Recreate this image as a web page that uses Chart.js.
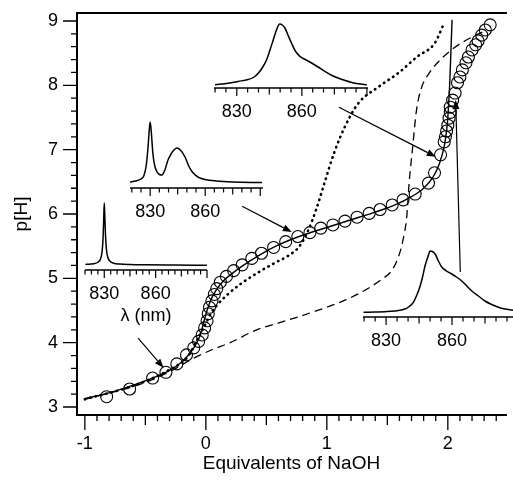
<!DOCTYPE html>
<html>
<head>
<meta charset="utf-8">
<script src="https://cdn.jsdelivr.net/npm/chart.js@4.4.1/dist/chart.umd.min.js"></script>
<style>
  html, body { margin: 0; padding: 0; background: #fff; }
  #wrap { position: relative; width: 513px; height: 481px; overflow: hidden; }
  #wrap canvas { position: absolute; }
</style>
</head>
<body>
<div id="wrap">
  <canvas id="main" width="513" height="481" style="left:0;top:0"></canvas>
  <canvas id="insetA"></canvas>
  <canvas id="insetB"></canvas>
  <canvas id="insetC"></canvas>
  <canvas id="insetD"></canvas>
</div>
<script>
// --- titration data: equivalents of NaOH vs p[H] ---
const measEq = [-0.82, -0.63, -0.44, -0.33, -0.24, -0.16, -0.10, -0.06, -0.03, -0.01, 0.01, 0.02, 0.03, 0.05, 0.07, 0.09,
  0.12, 0.17, 0.23, 0.30, 0.38, 0.46, 0.56, 0.66, 0.76, 0.86, 0.95, 1.05, 1.15, 1.25, 1.35, 1.44, 1.54, 1.63, 1.73,
  1.84, 1.89, 1.94, 1.97, 1.98, 1.99, 2.00, 2.01, 2.02, 2.02, 2.04, 2.06, 2.08, 2.10, 2.12, 2.15, 2.17, 2.20, 2.23,
  2.25, 2.28, 2.31, 2.35];
const measPH = [3.16, 3.28, 3.45, 3.54, 3.67, 3.81, 3.92, 4.02, 4.12, 4.23, 4.34, 4.45, 4.55, 4.65, 4.75, 4.84,
  4.94, 5.03, 5.12, 5.21, 5.31, 5.39, 5.48, 5.57, 5.65, 5.71, 5.78, 5.83, 5.89, 5.95, 6.01, 6.07, 6.14, 6.22, 6.31,
  6.48, 6.64, 6.92, 7.12, 7.20, 7.29, 7.38, 7.49, 7.58, 7.66, 7.77, 7.88, 8.04, 8.13, 8.24, 8.35, 8.44, 8.55, 8.63,
  8.69, 8.78, 8.86, 8.94];

// fitted curve (solid)
const fitEq = [-1.0, -0.8, -0.6, -0.4, -0.3, -0.2, -0.1, -0.05, -0.02, 0.01, 0.04, 0.08, 0.14, 0.2, 0.3, 0.45, 0.6,
  0.8, 1.0, 1.2, 1.4, 1.55, 1.7, 1.8, 1.88, 1.93, 1.97, 1.99, 2.0, 2.015, 2.025, 2.035];
const fitPH = [3.13, 3.22, 3.34, 3.48, 3.57, 3.7, 3.92, 4.1, 4.3, 4.5, 4.66, 4.8, 4.95, 5.05, 5.19, 5.37, 5.52,
  5.67, 5.79, 5.91, 6.03, 6.13, 6.27, 6.4, 6.58, 6.78, 7.05, 7.3, 7.5, 8.0, 8.5, 9.02];

// dotted curve
const dotEq = [-1.0, -0.6, -0.3, -0.15, -0.07, 0.0, 0.04, 0.1, 0.18, 0.3, 0.44, 0.57, 0.68, 0.77, 0.84, 0.91, 0.98,
  1.06, 1.15, 1.26, 1.43, 1.59, 1.75, 1.89, 1.97];
const dotPH = [3.12, 3.33, 3.58, 3.78, 4.05, 4.3, 4.45, 4.6, 4.75, 4.93, 5.1, 5.24, 5.35, 5.49, 5.72, 6.06, 6.48,
  6.95, 7.36, 7.72, 7.98, 8.19, 8.45, 8.65, 8.97];

// dashed curve
const dashEq = [-1.0, -0.6, -0.4, -0.25, -0.1, 0.05, 0.2, 0.42, 0.61, 0.89, 1.15, 1.3, 1.45, 1.54, 1.6, 1.63, 1.66,
  1.68, 1.71, 1.74, 1.78, 1.85, 1.95, 2.05, 2.15, 2.3];
const dashPH = [3.12, 3.32, 3.46, 3.6, 3.76, 3.89, 4.0, 4.2, 4.31, 4.48, 4.66, 4.8, 4.98, 5.13, 5.38, 5.6, 5.95,
  6.48, 7.05, 7.6, 7.95, 8.2, 8.42, 8.58, 8.7, 8.84];

const xTickLabels = [-1, 0, 1, 2];
const yTickLabels = [3, 4, 5, 6, 7, 8, 9];

// --- inset spectra: wavelength (nm) vs absorbance (a.u.) ---
const specA_nm = [819, 822, 824.5, 826.5, 827.8, 828.7, 829.3, 829.7, 830, 830.3, 830.7, 831.3, 832.2, 833.5, 835.5,
  839, 845, 855, 870, 890];
const specA_abs = [5.5, 6, 6.5, 8, 11, 18, 32, 52, 67, 55, 36, 20, 12, 8.5, 6.8, 6, 5.5, 5.2, 5, 4.8];

const specB_nm = [819, 822, 825, 826.5, 827.8, 828.8, 829.5, 830, 830.6, 831.5, 832.5, 833.8, 835, 836.4, 838,
  839.7, 841.2, 842.7, 844.5, 846.5, 849, 851, 853, 856, 860, 866, 875, 891];
const specB_abs = [6, 7, 9, 12, 22, 40, 58, 66, 56, 34, 22, 16, 13.5, 13, 18, 28, 33.5, 37.5, 40, 38, 31, 22, 16,
  11, 8.5, 7, 6, 5.5];

const specC_nm = [820, 826, 830.6, 835.2, 838, 840, 842, 843.7, 845.3, 846.8, 848.3, 849.8, 851, 852.2, 853.8,
  855.2, 857, 859.1, 862, 864.5, 867.5, 870.6, 873.5, 876.7, 880, 883, 886, 890];
const specC_abs = [3.3, 4.8, 6.6, 8.5, 11, 15, 21, 28, 38, 48, 58, 64, 63, 60, 52, 45, 37, 31.6, 28, 25, 21, 16.6,
  13, 10, 7.5, 5.6, 4.3, 3.3];

const specD_nm = [819.7, 825, 829.5, 834, 838.6, 840.5, 842.4, 844, 845.5, 846.7, 847.7, 849, 850, 851, 852.3,
  853.8, 855.3, 857.5, 859.8, 862, 864.4, 866.7, 869, 872, 875, 878, 881.1, 884, 887.1, 890];
const specD_abs = [4.7, 5, 5.3, 6, 8, 10.5, 14.7, 22, 31, 41, 51, 60, 66, 65.5, 63, 56, 50, 46, 43, 40, 36, 31, 26,
  21, 16, 12.5, 9.7, 8, 7, 6.2];

const insetTickLabels = [830, 860];

// arrows from the insets to the titration points (data units of the main plot)
const arrows = [
  { from: [-0.56, 4.07], to: [-0.35, 3.61] },
  { from: [0.30, 6.12], to: [0.71, 5.72] },
  { from: [1.10, 7.66], to: [1.90, 6.89] },
  { from: [2.103, 5.10], to: [2.065, 7.77] },
];

const FONT = "'Liberation Sans', Arial, Helvetica, sans-serif";
const pts = (xs, ys) => xs.map((x, i) => ({ x: x, y: ys[i] }));

// frame, hand drawn ticks, arrows
const mainDecor = {
  id: "mainDecor",
  afterDraw(chart) {
    const { ctx, chartArea: a, scales } = chart;
    const sx = scales.x, sy = scales.y;
    ctx.save();
    ctx.setLineDash([]);
    ctx.fillStyle = "#000";
    ctx.strokeStyle = "#000";
    // frame (top, left, bottom) - the right side runs off the picture
    const w = 2;
    ctx.fillRect(a.left - w / 2, a.top - w / 2, a.right - a.left + w, w);
    ctx.fillRect(a.left - w / 2, a.top - w / 2, w, a.bottom - a.top + w);
    ctx.fillRect(a.left - w / 2, a.bottom - w / 2, a.right - a.left + w, w);

    ctx.lineWidth = 1.3;
    ctx.beginPath();
    for (let k = 0; ; k++) {
      const v = -1 + k * 0.1;
      if (v > 2.45) break;
      const r = Math.round(v * 10);
      const len = r % 10 === 0 ? 15 : (r % 5 === 0 ? 10 : 6);
      const px = sx.getPixelForValue(v);
      ctx.moveTo(px, a.bottom);
      ctx.lineTo(px, a.bottom + len);
    }
    for (let k = 0; ; k++) {
      const v = 3 + k * 0.2;
      if (v > 9.01) break;
      const r = Math.round(v * 10);
      const len = r % 10 === 0 ? 14 : 6;
      const py = sy.getPixelForValue(v);
      ctx.moveTo(a.left, py);
      ctx.lineTo(a.left - len, py);
    }
    ctx.stroke();

    // arrows
    ctx.lineWidth = 1.2;
    arrows.forEach((ar) => {
      const x1 = sx.getPixelForValue(ar.from[0]), y1 = sy.getPixelForValue(ar.from[1]);
      const x2 = sx.getPixelForValue(ar.to[0]), y2 = sy.getPixelForValue(ar.to[1]);
      const ang = Math.atan2(y2 - y1, x2 - x1);
      const hl = 9, hw = 3.5;
      ctx.beginPath();
      ctx.moveTo(x1, y1);
      ctx.lineTo(x2 - hl * Math.cos(ang), y2 - hl * Math.sin(ang));
      ctx.stroke();
      ctx.beginPath();
      ctx.moveTo(x2, y2);
      ctx.lineTo(x2 - hl * Math.cos(ang) + hw * Math.sin(ang), y2 - hl * Math.sin(ang) - hw * Math.cos(ang));
      ctx.lineTo(x2 - hl * Math.cos(ang) - hw * Math.sin(ang), y2 - hl * Math.sin(ang) + hw * Math.cos(ang));
      ctx.closePath();
      ctx.fill();
    });
    ctx.restore();
  },
};

new Chart(document.getElementById("main"), {
  type: "scatter",
  data: {
    datasets: [
      {
        data: pts(measEq, measPH),
        pointRadius: 6,
        pointBorderWidth: 1.1,
        pointBorderColor: "#000",
        pointBackgroundColor: "rgba(0,0,0,0)",
        showLine: false,
      },
      {
        data: pts(fitEq, fitPH),
        showLine: true,
        borderColor: "#000",
        borderWidth: 1.4,
        pointRadius: 0,
        cubicInterpolationMode: "monotone",
      },
      {
        data: pts(dotEq, dotPH),
        showLine: true,
        borderColor: "#000",
        borderWidth: 2.6,
        borderDash: [0.5, 5],
        borderCapStyle: "round",
        pointRadius: 0,
        cubicInterpolationMode: "monotone",
      },
      {
        data: pts(dashEq, dashPH),
        showLine: true,
        borderColor: "#000",
        borderWidth: 1.3,
        borderDash: [8, 5],
        pointRadius: 0,
        cubicInterpolationMode: "monotone",
      },
    ],
  },
  options: {
    responsive: false,
    animation: false,
    events: [],
    layout: { padding: { top: 13, right: 0, left: 0, bottom: 0 } },
    plugins: { legend: { display: false }, tooltip: { enabled: false } },
    scales: {
      x: {
        type: "linear",
        min: -1.065,
        max: 2.48,
        grid: { display: false, drawTicks: false },
        border: { display: false },
        afterBuildTicks: (s) => { s.ticks = xTickLabels.map((v) => ({ value: v })); },
        afterFit: (s) => { s.height = 66; s.paddingLeft = 0; s.paddingRight = 0; },
        ticks: { color: "#000", font: { family: FONT, size: 18 }, padding: 18, maxRotation: 0, autoSkip: false,
          callback: (v) => String(v) },
        title: { display: true, text: "Equivalents of NaOH", color: "#000", font: { family: FONT, size: 19 },
          padding: { top: 0, bottom: 6 } },
      },
      y: {
        type: "linear",
        min: 2.876,
        max: 9.124,
        grid: { display: false, drawTicks: false },
        border: { display: false },
        afterBuildTicks: (s) => { s.ticks = yTickLabels.map((v) => ({ value: v })); },
        afterFit: (s) => { s.width = 77; s.paddingTop = 0; s.paddingBottom = 0; },
        ticks: { color: "#000", font: { family: FONT, size: 18 }, padding: 19, callback: (v) => String(v) },
        title: { display: true, text: "p[H]", color: "#000", font: { family: FONT, size: 19 },
          padding: { top: 10, bottom: 0 } },
      },
    },
  },
  plugins: [mainDecor],
});

// --- insets ---
const absMax = 70;

function insetAxis(opt) {
  return {
    id: "insetAxis",
    afterDraw(chart) {
      const { ctx, chartArea: a, scales } = chart;
      ctx.save();
      ctx.setLineDash([]);
      ctx.strokeStyle = "#000";
      ctx.fillStyle = "#000";
      ctx.fillRect(a.left, a.bottom - 0.75, a.right - a.left, 1.5);
      ctx.lineWidth = 1.2;
      ctx.beginPath();
      for (let k = 0; ; k++) {
        const v = opt.first + k * opt.step;
        if (v > opt.max + 1e-6) break;
        const d = Math.abs(v - 830);
        const len = d % 30 < 1e-6 ? 8 : (d % 15 < 1e-6 ? 6.5 : 4.5);
        const px = scales.x.getPixelForValue(v);
        ctx.moveTo(px, a.bottom);
        ctx.lineTo(px, a.bottom + len);
      }
      ctx.stroke();
      ctx.restore();
    },
  };
}

function makeInset(id, nm, abs, box, opt) {
  const pad = 22, topPad = 4;
  const plotH = box.axis - box.top;
  const cv = document.getElementById(id);
  cv.width = box.right - box.left + 2 * pad;
  cv.height = plotH + topPad + opt.axisH;
  cv.style.left = box.left - pad + "px";
  cv.style.top = box.top - topPad + "px";
  new Chart(cv, {
    type: "scatter",
    data: {
      datasets: [{
        data: pts(nm, abs),
        showLine: true,
        borderColor: "#000",
        borderWidth: 1.5,
        pointRadius: 0,
        cubicInterpolationMode: "monotone",
      }],
    },
    options: {
      responsive: false,
      animation: false,
      events: [],
      layout: { padding: { left: pad, right: pad, top: topPad, bottom: 0 } },
      plugins: { legend: { display: false }, tooltip: { enabled: false } },
      scales: {
        x: {
          type: "linear",
          min: opt.min,
          max: opt.max,
          grid: { display: false, drawTicks: false },
          border: { display: false },
          afterBuildTicks: (s) => { s.ticks = insetTickLabels.map((v) => ({ value: v })); },
          afterFit: (s) => { s.height = opt.axisH; s.paddingLeft = 0; s.paddingRight = 0; },
          ticks: { color: "#000", font: { family: FONT, size: 18 }, padding: 13, maxRotation: 0, autoSkip: false,
            callback: (v) => String(v) },
          title: opt.title
            ? { display: true, text: opt.title, color: "#000", font: { family: FONT, size: 18 },
                padding: { top: 0, bottom: 1 } }
            : { display: false },
        },
        y: { display: false, min: 0, max: absMax },
      },
    },
    plugins: [insetAxis(opt)],
  });
}

makeInset("insetA", specA_nm, specA_abs, { left: 85, right: 207, top: 200, axis: 270 },
  { min: 818.75, max: 890, first: 818.75, step: 3.75, axisH: 58, title: "λ (nm)" });
makeInset("insetB", specB_nm, specB_abs, { left: 130, right: 263, top: 118, axis: 188 },
  { min: 819, max: 891.5, first: 820, step: 5, axisH: 34 });
makeInset("insetC", specC_nm, specC_abs, { left: 214, right: 368, top: 18, axis: 88 },
  { min: 819.5, max: 890.5, first: 820, step: 5, axisH: 34 });
makeInset("insetD", specD_nm, specD_abs, { left: 363, right: 518, top: 247, axis: 317 },
  { min: 819.5, max: 890, first: 820, step: 5, axisH: 34 });
</script>
</body>
</html>
